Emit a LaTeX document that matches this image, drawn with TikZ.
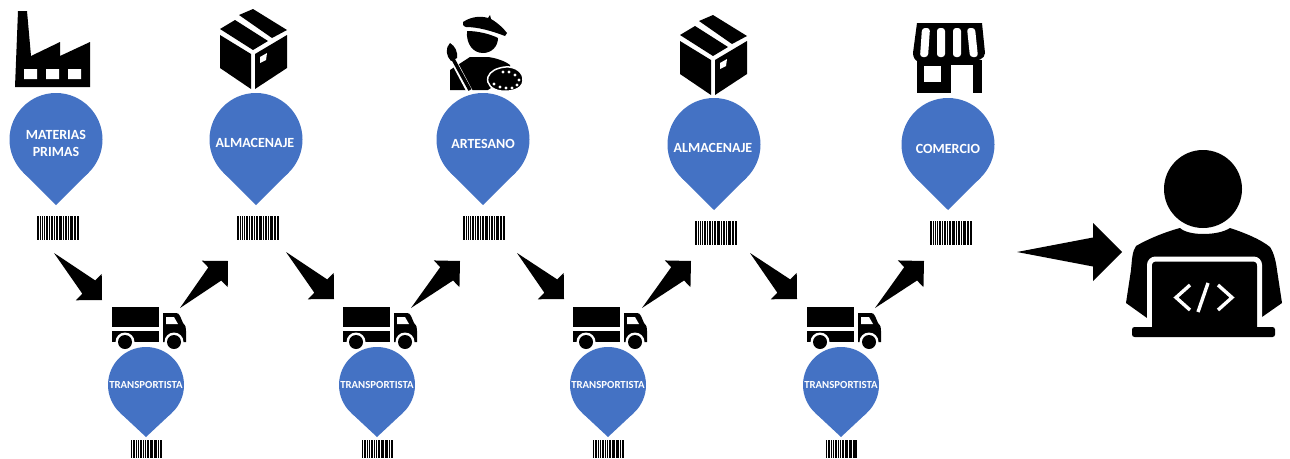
\documentclass[tikz,border=0pt]{standalone}
\usepackage{fontspec}
\setmainfont{Carlito}
\usetikzlibrary{calc}
\definecolor{pinblue}{HTML}{4472C4}
\newcommand{\pinshape}[4]{% cx, top, r, tip
  \pgfmathsetmacro{\pcy}{#2+#3}
  \pgfmathsetmacro{\pd}{#4-\pcy}
  \pgfmathsetmacro{\pa}{acos(#3/\pd)}
  \pgfmathsetmacro{\pdx}{#3*sin(\pa)}
  \pgfmathsetmacro{\pdy}{#3*cos(\pa)}
  \fill[pinblue] (#1,\pcy) circle[radius=#3];
  \fill[pinblue] (#1,#4) -- (#1+\pdx,\pcy+\pdy) -- (#1,\pcy) -- (#1-\pdx,\pcy+\pdy) -- cycle;
}
\newcommand{\blockarrow}[3]{% size, tail, tip
  \coordinate (ab) at ($(#3)!#1pt!(#2)$);
  \fill[black] (#2) -- ($(ab)!#1*0.5pt!90:(#3)$) -- ($(ab)!#1pt!90:(#3)$) -- (#3)
     -- ($(ab)!#1pt!-90:(#3)$) -- ($(ab)!#1*0.5pt!-90:(#3)$) -- cycle;
}
\tikzset{
  bigl/.style={text=white,font=\bfseries\fontsize{14}{17}\selectfont,align=center,inner sep=0pt},
  smalll/.style={text=white,font=\bfseries\fontsize{10.8}{12}\selectfont,align=center,inner sep=0pt},
  barcode/.pic={
    \foreach \s/\w in {0/1.5,2.5/.8,4.5/1.5,7/.8,9/2,12/.8,14/1.5,16.5/1,18.5/2,21.5/.8,23/1.5,25.5/.8,27.5/2,30.5/1,32.5/.8,34/1.5,36.5/2,39.5/.8,41/1}
      \fill[black] (\s,0) rectangle ++(\w,1);
  },
  truck/.pic={
    \fill[black] (112,307) rectangle (159,327);
    \fill[black] (112,331) rectangle (159,342);
    \fill[black] (163,313) -- (176,313) .. controls (178,313) and (179,314) .. (180,316)
       -- (183,323) .. controls (186,326) and (186,328) .. (186,331) -- (186,342) -- (163,342) -- cycle;
    \fill[white] (166,317) -- (174,317) -- (178,324) -- (166,324) -- cycle;
    \fill[white] (125,342) circle[radius=9.5];
    \fill[white] (174,342) circle[radius=9.5];
    \fill[black] (125,342) circle[radius=7];
    \fill[black] (174,342) circle[radius=7];
  },
  cardbox/.pic={
    \fill[black] (220,29) -- (235,20) -- (268,41) -- (253,50) -- cycle;
    \fill[black] (239,15) -- (253,9) -- (287,30) -- (272,38) -- cycle;
    \fill[black] (220,35) -- (251,54) -- (251,89) -- (220,68) -- cycle;
    \fill[black] (255,54) -- (287,35) -- (287,68) -- (255,89) -- cycle;
    \fill[white] (260,57) -- (267,53) -- (266,60) -- (260,63) -- cycle;
  }
}
\begin{document}
\begin{tikzpicture}[x=1pt,y=-1pt]
\useasboundingbox (0,0) rectangle (1290,458);
\fill[white] (0,0) rectangle (1290,458);

% factory
\fill[black] (18,11) -- (27,11) -- (31,56) -- (60,42) -- (60,56) -- (90,42) -- (90,87) -- (15,87) -- cycle;
\fill[white] (24,69) rectangle (37,79) (46,69) rectangle (59,79) (68,69) rectangle (81,79);

% boxes
\pic at (0,0) {cardbox};
\pic at (460,6) {cardbox};

% artist
\fill[black] (463,22) .. controls (472,16) and (482,16) .. (488,18) -- (490,15) -- (491,19)
   .. controls (498,23) and (504,29) .. (507,33) -- (505,36) .. controls (492,31) and (478,27) .. (466,27)
   .. controls (463,26) and (462,24) .. (463,22) -- cycle;
\fill[black] (467,31) .. controls (478,31) and (490,34) .. (498,38)
   .. controls (498,46) and (492,53) .. (483,53) .. controls (473,53) and (466,44) .. (467,31) -- cycle;
\fill[black] (470,57) -- (488,57) .. controls (496,58) and (505,61) .. (510,65) -- (510,75) -- (488,90) -- (450,90) -- (450,70) -- cycle;
\draw[white,line width=6pt] (452,58) -- (470,92);
\draw[black,line width=3.5pt] (453,59) -- (470,90);
\fill[black] (450,43) .. controls (455,46) and (458,52) .. (457,58) -- (451,61) .. controls (446,56) and (445,48) .. (450,43) -- cycle;
\fill[black,draw=white,line width=1.5pt] (505,67) .. controls (516,66) and (524,73) .. (523,81)
   .. controls (522,90) and (510,92) .. (501,91) .. controls (492,90) and (486,84) .. (488,77)
   .. controls (490,71) and (497,68) .. (505,67) -- cycle;
\foreach \dx/\dy in {503/72,509/72,515/75,519/80,517/85,512/88,506/88,500/87,494/84}
  \fill[white] (\dx,\dy) circle[radius=1.6];

% store
\fill[black] (917,23) -- (982,23) -- (985,53) .. controls (985,59) and (977,61) .. (973,61)
   -- (917,61) .. controls (915,60) and (913,57) .. (913,53) -- cycle;
\foreach \a/\b/\c/\d in {922/930/920/928,937/945/937/945,953/961/953/961,967/975/970/978}
  \fill[white,rounded corners=3pt] (\a,28) -- (\b,28) -- (\d,57) -- (\c,57) -- cycle;
\fill[black] (917,60) rectangle (951,93);
\fill[black] (917,60) rectangle (982,65);
\fill[black] (973,60) rectangle (982,93);
\fill[white] (924,66) rectangle (941,82);

% top pins
\pinshape{56}{93}{46.5}{205}
\pinshape{256}{93}{46.5}{205}
\pinshape{483}{93}{46.5}{205}
\pinshape{714}{98}{46.5}{210}
\pinshape{948}{98}{46.5}{210}
\node[bigl] (l1) at (56,143.5) {MATERIAS\\PRIMAS};
\node[bigl] (l2) at (255,142.5) {ALMACENAJE};
\node[bigl] (l3) at (483,144) {ARTESANO};
\node[bigl] (l4) at (713,148) {ALMACENAJE};
\node[bigl] (l5) at (948,148.5) {COMERCIO};

% top barcodes
\pic[xscale=1,yscale=24] at (37,216) {barcode};
\pic[xscale=1,yscale=24] at (237,216) {barcode};
\pic[xscale=1,yscale=24] at (463,216) {barcode};
\pic[xscale=1,yscale=24] at (695,221) {barcode};
\pic[xscale=1,yscale=24] at (930,221) {barcode};

% trucks
\pic at (0,0) {truck};
\pic at (231,0) {truck};
\pic at (461,0) {truck};
\pic at (695,0) {truck};

% bottom pins
\pinshape{146}{347}{38}{437}
\pinshape{377}{347}{38}{437}
\pinshape{608}{347}{38}{437}
\pinshape{841}{347}{38}{437}
\node[smalll] (t1) at (146,384.5) {TRANSPORTISTA};
\node[smalll] (t2) at (377,384.5) {TRANSPORTISTA};
\node[smalll] (t3) at (608,384.5) {TRANSPORTISTA};
\node[smalll] (t4) at (841,384.5) {TRANSPORTISTA};

% bottom barcodes
\pic[xscale=.74,yscale=18] at (131,440) {barcode};
\pic[xscale=.74,yscale=18] at (362,440) {barcode};
\pic[xscale=.74,yscale=18] at (593,440) {barcode};
\pic[xscale=.74,yscale=18] at (826,440) {barcode};

% block arrows
\coordinate (a1t) at (54,253);  \coordinate (a1h) at (102,300);
\coordinate (a2t) at (180,308); \coordinate (a2h) at (228,261);
\coordinate (a3t) at (286,252); \coordinate (a3h) at (334,299);
\coordinate (a4t) at (411,308); \coordinate (a4h) at (460,261);
\coordinate (a5t) at (517,253); \coordinate (a5h) at (564,299);
\coordinate (a6t) at (642,308); \coordinate (a6h) at (691,261);
\coordinate (a7t) at (750,253); \coordinate (a7h) at (797,299);
\coordinate (a8t) at (875,308); \coordinate (a8h) at (924,261);
\coordinate (a9t) at (1017,252); \coordinate (a9h) at (1122,252);
\foreach \n in {1,...,8} {\blockarrow{18.5}{a\n t}{a\n h}}
\blockarrow{29}{a9t}{a9h}

% person with laptop
\fill[black] (1203,189) circle[radius=39];
\fill[black] (1180,228) .. controls (1188,236) and (1218,236) .. (1230,228)
   .. controls (1245,233) and (1260,239) .. (1270,247) .. controls (1274,253) and (1276,262) .. (1277,270)
   -- (1282,303) -- (1262,317) -- (1147,318) -- (1126,303) -- (1131,270)
   .. controls (1132,260) and (1132,252) .. (1136,246) .. controls (1148,239) and (1165,232) .. (1180,228) -- cycle;
\draw[white,line width=5pt,rounded corners=6pt] (1149.5,327) -- (1149.5,259) -- (1259.5,259) -- (1259.5,327);
\fill[black,rounded corners=4pt] (1152,262) -- (1257,262) -- (1257,335) -- (1152,335) -- cycle;
\fill[black,rounded corners=2.5pt] (1132,327) -- (1275,327) -- (1275,337) -- (1132,337) -- cycle;
\draw[white,line width=3.4pt] (1190,285) -- (1176,297.5) -- (1190,310);
\draw[white,line width=3.4pt] (1208,283) -- (1198,312);
\draw[white,line width=3.4pt] (1218,285) -- (1232,297.5) -- (1218,310);
\end{tikzpicture}
\end{document}
